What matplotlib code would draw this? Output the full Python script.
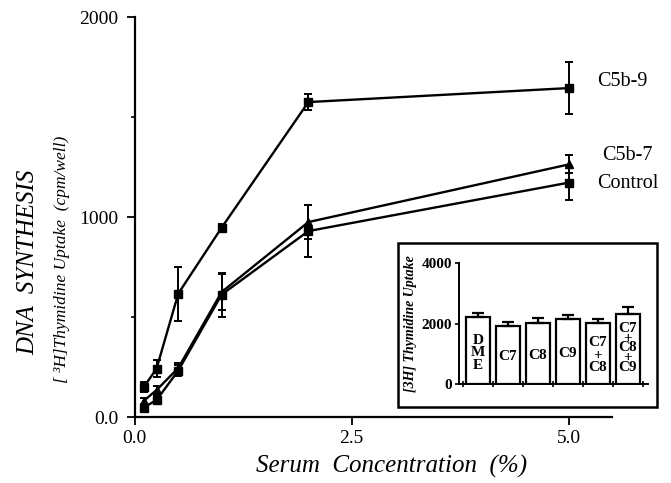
import numpy as np
import matplotlib.pyplot as plt
from matplotlib.patches import Rectangle

plt.rcParams['font.family'] = ['Liberation Serif', 'DejaVu Serif']

# main curves
serum = [0.1, 0.25, 0.5, 1.0, 2.0, 5.0]
c5b9 = [148, 242, 617, 947, 1575, 1645]
c5b9_err = [25, 42, 135, 18, 40, 130]
c5b7 = [80, 135, 245, 625, 975, 1263]
c5b7_err = [15, 20, 25, 90, 85, 45]
control = [47, 85, 232, 612, 930, 1172]
control_err = [12, 20, 28, 110, 130, 85]

# inset bars
inset_names = ['D\nM\nE', 'C7', 'C8', 'C9', 'C7\n+\nC8', 'C7\n+\nC8\n+\nC9']
inset_vals = [2215, 1927, 2036, 2148, 2036, 2314]
inset_err = [130, 140, 165, 140, 110, 250]

fig = plt.figure(figsize=(6.71, 4.83), dpi=100)
ax = fig.add_axes([0.201, 0.1366, 0.711, 0.828])

ax.errorbar(serum, c5b9, yerr=c5b9_err, color='black', lw=1.7, marker='s',
            ms=6, capsize=3, elinewidth=1.4, capthick=1.4)
ax.errorbar(serum, c5b7, yerr=c5b7_err, color='black', lw=1.7, marker='^',
            ms=6, capsize=3, elinewidth=1.4, capthick=1.4)
ax.errorbar(serum, control, yerr=control_err, color='black', lw=1.7, marker='s',
            ms=5.5, capsize=3, elinewidth=1.4, capthick=1.4)

ax.set_xlim(0, 5.5)
ax.set_ylim(0, 2000)
ax.spines['top'].set_visible(False)
ax.spines['right'].set_visible(False)
ax.spines['left'].set_linewidth(1.6)
ax.spines['bottom'].set_linewidth(1.6)
ax.set_xticks([0, 2.5, 5.0])
ax.set_xticklabels(['0.0', '2.5', '5.0'])
ax.set_yticks([0, 1000, 2000])
ax.set_yticklabels(['0.0', '1000', '2000'])
ax.set_yticks([500, 1500], minor=True)
ax.tick_params(axis='both', which='major', labelsize=14, length=6, width=1.3, direction='out')
ax.tick_params(axis='y', which='minor', length=3, width=1.2, direction='out')
ax.tick_params(axis='y', pad=6)

fig.text(597 / 671, 1 - 82 / 483, 'C5b-9', fontsize=14.5, va='center', ha='left')
fig.text(602 / 671, 1 - 155 / 483, 'C5b-7', fontsize=14.5, va='center', ha='left')
fig.text(597 / 671, 1 - 184 / 483, 'Control', fontsize=14.5, va='center', ha='left')

fig.text(28 / 671, 1 - 262 / 483, 'DNA  SYNTHESIS', fontsize=18, style='italic',
         rotation=90, va='center', ha='center')
fig.text(62 / 671, 1 - 259 / 483, '[ ³H]Thymidine Uptake  (cpm/well)', fontsize=12.5,
         style='italic', rotation=90, va='center', ha='center')
fig.text(392 / 671, 1 - 466 / 483, 'Serum  Concentration  (%)', fontsize=18,
         style='italic', va='center', ha='center')

# inset box
fig.patches.append(Rectangle((398 / 671, 1 - 407 / 483), 259 / 671, 164 / 483,
                             transform=fig.transFigure, fill=True, facecolor='white',
                             edgecolor='black', lw=1.8, zorder=5))

ins = fig.add_axes([459 / 671, 1 - 384.3 / 483, 189 / 671, 121 / 483], zorder=6)
ins.patch.set_alpha(0)
pos = np.arange(len(inset_vals))
ins.bar(pos, inset_vals, width=0.8, color='white', edgecolor='black', lw=1.6,
        yerr=[np.zeros(len(inset_err)), inset_err], capsize=4,
        error_kw=dict(elinewidth=1.6, capthick=1.6))
for p, v, name in zip(pos, inset_vals, inset_names):
    nl = name.count('\n')
    ls = 0.95 if nl < 4 else 0.68
    ins.text(p, v * 0.47 if nl < 4 else v * 0.52, name, ha='center', va='center',
             fontsize=11, fontweight='bold', linespacing=ls)
ins.set_xlim(-0.63, 5.67)
ins.set_ylim(0, 4000)
ins.spines['top'].set_visible(False)
ins.spines['right'].set_visible(False)
ins.spines['left'].set_linewidth(1.4)
ins.spines['bottom'].set_linewidth(1.4)
ins.set_yticks([0, 2000, 4000])
ins.set_xticks(np.arange(-0.5, 6, 1.0))
ins.set_xticklabels([])
ins.tick_params(axis='y', labelsize=11, length=3, width=1.2, pad=2)
for t in ins.get_yticklabels():
    t.set_fontweight('bold')
ins.tick_params(axis='x', length=5, width=1.2, direction='inout')
ins.set_ylabel('[3H] Thymidine Uptake', fontsize=10, style='italic',
               fontweight='bold', labelpad=3)

fig.savefig('out.png', dpi=100)
